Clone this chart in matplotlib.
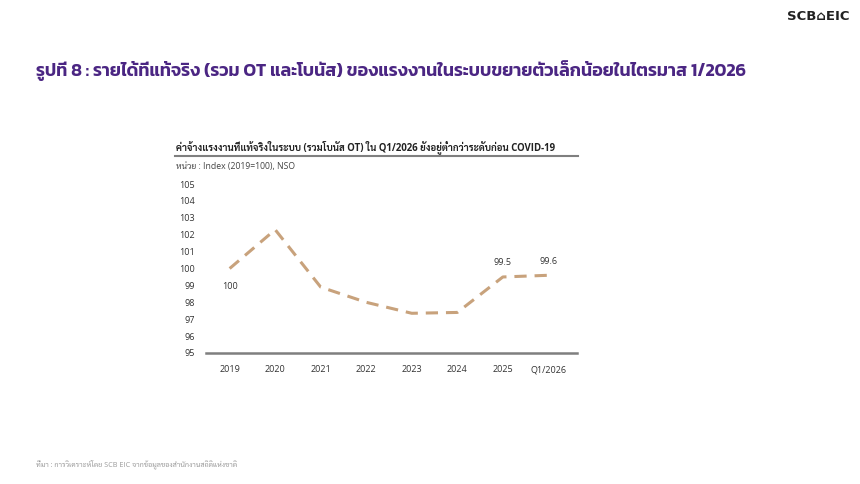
import matplotlib
matplotlib.use("Agg")
import matplotlib.pyplot as plt
from matplotlib.lines import Line2D

# ข้อมูล: ค่าจ้างแรงงานที่แท้จริงในระบบ (Index 2019=100)
periods = ['2019', '2020', '2021', '2022', '2023', '2024', '2025', 'Q1/2026']
wage_index = [100.0, 102.3, 98.9, 98.0, 97.35, 97.4, 99.5, 99.6]
label_text = {0: '100', 6: '99.5', 7: '99.6'}
yticks = [95, 96, 97, 98, 99, 100, 101, 102, 103, 104, 105]

title = 'รูปที่ 8 : รายได้ที่แท้จริง (รวม OT และโบนัส) ของแรงงานในระบบขยายตัวเล็กน้อยในไตรมาส 1/2026'
subtitle = 'ค่าจ้างแรงงานที่แท้จริงในระบบ (รวมโบนัส OT) ใน Q1/2026 ยังอยู่ต่ำกว่าระดับก่อน COVID-19'
unit = 'หน่วย : Index (2019=100), NSO'
source = 'ที่มา : การวิเคราะห์โดย SCB EIC จากข้อมูลของสำนักงานสถิติแห่งชาติ'

body = ['Open Sans', 'Sarabun', 'DejaVu Sans']
head = ['Kanit', 'Noto Sans Thai', 'DejaVu Sans']

fig = plt.figure(figsize=(8.6, 4.84), dpi=100)
ax = fig.add_axes([0.2395, 0.2707, 0.4315, 0.349])

x = list(range(len(periods)))
ax.plot(x, wage_index, color='#C8A27C', lw=2.2, ls=(0, (4, 2.6)), solid_capstyle='butt')

# ป้ายค่า
for i, t in label_text.items():
    if i == 0:
        ax.annotate(t, (x[i], wage_index[i]), xytext=(0, -10), textcoords='offset points',
                    ha='center', va='top', fontsize=6.5, family=body, color='#333333')
    else:
        ax.annotate(t, (x[i], wage_index[i]), xytext=(0, 7), textcoords='offset points',
                    ha='center', va='bottom', fontsize=6.5, family=body, color='#333333')

ax.set_ylim(95, 105)
ax.set_xlim(-0.52, 7.63)
ax.set_yticks(yticks)
ax.set_xticks(x)
ax.set_xticklabels(periods)
for s in ['top', 'right', 'left']:
    ax.spines[s].set_visible(False)
ax.spines['bottom'].set_color('#7f7f7f')
ax.spines['bottom'].set_linewidth(1.8)
ax.tick_params(axis='both', length=0, labelsize=6.5, colors='#333333')
ax.tick_params(axis='y', pad=8)
ax.tick_params(axis='x', pad=9)
for lab in ax.get_xticklabels() + ax.get_yticklabels():
    lab.set_family(body)

# หัวเรื่อง
fig.text(36 / 860, 1 - 71 / 484, title, fontsize=12.85, family=head, fontweight='semibold',
         color='#4B2683', va='center', ha='left')
fig.text(176 / 860, 1 - 147 / 484, subtitle, fontsize=6.95, family=body, fontweight='bold',
         color='#222222', va='center', ha='left')
fig.add_artist(Line2D([175 / 860, 578 / 860], [1 - 155.5 / 484, 1 - 155.5 / 484],
                      color='#7f7f7f', lw=1.5, transform=fig.transFigure))
fig.text(176 / 860, 1 - 166 / 484, unit, fontsize=6.2, family=body, color='#444444',
         va='center', ha='left')
fig.text(36 / 860, 1 - 464 / 484, source, fontsize=5.2, family=body, color='#999999',
         va='center', ha='left')
fig.text(849 / 860, 1 - 17 / 484, 'SCB⌂EIC', fontsize=9.5, family=['DejaVu Sans'],
         fontweight='bold', color='#222222', va='center', ha='right')

fig.savefig('out.png', dpi=100)
